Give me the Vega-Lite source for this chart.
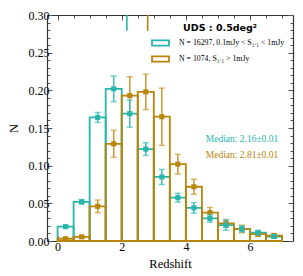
{
  "$schema": "https://vega.github.io/schema/vega-lite/v6.json",
  "width": 246,
  "height": 226,
  "autosize": "none",
  "padding": {"left": 47, "top": 15, "right": 10, "bottom": 35},
  "config": {
    "view": {"stroke": null},
    "axis": {
      "domainColor": "#333333",
      "domainWidth": 1.2,
      "tickColor": "#555555",
      "tickWidth": 1,
      "labelFont": "Liberation Serif",
      "labelFontSize": 12,
      "labelColor": "#000000",
      "titleFont": "Liberation Serif",
      "titleFontSize": 12.5,
      "titleFontWeight": "normal",
      "titleColor": "#000000",
      "grid": false
    }
  },
  "datasets": {
    "hist": [
      {"sample": "N = 16297, 0.1mJy < S₁.₁ < 1mJy", "lo": 0.0, "hi": 0.5, "mid": 0.25, "frac": 0.019, "err": 0.002},
      {"sample": "N = 16297, 0.1mJy < S₁.₁ < 1mJy", "lo": 0.5, "hi": 1.0, "mid": 0.75, "frac": 0.052, "err": 0.003},
      {"sample": "N = 16297, 0.1mJy < S₁.₁ < 1mJy", "lo": 1.0, "hi": 1.5, "mid": 1.25, "frac": 0.164, "err": 0.0066},
      {"sample": "N = 16297, 0.1mJy < S₁.₁ < 1mJy", "lo": 1.5, "hi": 2.0, "mid": 1.75, "frac": 0.202, "err": 0.017},
      {"sample": "N = 16297, 0.1mJy < S₁.₁ < 1mJy", "lo": 2.0, "hi": 2.5, "mid": 2.25, "frac": 0.169, "err": 0.018},
      {"sample": "N = 16297, 0.1mJy < S₁.₁ < 1mJy", "lo": 2.5, "hi": 3.0, "mid": 2.75, "frac": 0.122, "err": 0.0084},
      {"sample": "N = 16297, 0.1mJy < S₁.₁ < 1mJy", "lo": 3.0, "hi": 3.5, "mid": 3.25, "frac": 0.085, "err": 0.010},
      {"sample": "N = 16297, 0.1mJy < S₁.₁ < 1mJy", "lo": 3.5, "hi": 4.0, "mid": 3.75, "frac": 0.0575, "err": 0.0058},
      {"sample": "N = 16297, 0.1mJy < S₁.₁ < 1mJy", "lo": 4.0, "hi": 4.5, "mid": 4.25, "frac": 0.044, "err": 0.007},
      {"sample": "N = 16297, 0.1mJy < S₁.₁ < 1mJy", "lo": 4.5, "hi": 5.0, "mid": 4.75, "frac": 0.030, "err": 0.005},
      {"sample": "N = 16297, 0.1mJy < S₁.₁ < 1mJy", "lo": 5.0, "hi": 5.5, "mid": 5.25, "frac": 0.021, "err": 0.0066},
      {"sample": "N = 16297, 0.1mJy < S₁.₁ < 1mJy", "lo": 5.5, "hi": 6.0, "mid": 5.75, "frac": 0.016, "err": 0.004},
      {"sample": "N = 16297, 0.1mJy < S₁.₁ < 1mJy", "lo": 6.0, "hi": 6.5, "mid": 6.25, "frac": 0.011, "err": 0.003},
      {"sample": "N = 16297, 0.1mJy < S₁.₁ < 1mJy", "lo": 6.5, "hi": 7.0, "mid": 6.75, "frac": 0.006, "err": 0.002},
      {"sample": "N = 1074, S₁.₁ > 1mJy", "lo": 0.0, "hi": 0.5, "mid": 0.25, "frac": 0.003, "err": 0.001},
      {"sample": "N = 1074, S₁.₁ > 1mJy", "lo": 0.5, "hi": 1.0, "mid": 0.75, "frac": 0.0055, "err": 0.0015},
      {"sample": "N = 1074, S₁.₁ > 1mJy", "lo": 1.0, "hi": 1.5, "mid": 1.25, "frac": 0.046, "err": 0.0084},
      {"sample": "N = 1074, S₁.₁ > 1mJy", "lo": 1.5, "hi": 2.0, "mid": 1.75, "frac": 0.129, "err": 0.018},
      {"sample": "N = 1074, S₁.₁ > 1mJy", "lo": 2.0, "hi": 2.5, "mid": 2.25, "frac": 0.193, "err": 0.025},
      {"sample": "N = 1074, S₁.₁ > 1mJy", "lo": 2.5, "hi": 3.0, "mid": 2.75, "frac": 0.198, "err": 0.0235},
      {"sample": "N = 1074, S₁.₁ > 1mJy", "lo": 3.0, "hi": 3.5, "mid": 3.25, "frac": 0.165, "err": 0.038},
      {"sample": "N = 1074, S₁.₁ > 1mJy", "lo": 3.5, "hi": 4.0, "mid": 3.75, "frac": 0.102, "err": 0.013},
      {"sample": "N = 1074, S₁.₁ > 1mJy", "lo": 4.0, "hi": 4.5, "mid": 4.25, "frac": 0.072, "err": 0.010},
      {"sample": "N = 1074, S₁.₁ > 1mJy", "lo": 4.5, "hi": 5.0, "mid": 4.75, "frac": 0.0376, "err": 0.007},
      {"sample": "N = 1074, S₁.₁ > 1mJy", "lo": 5.0, "hi": 5.5, "mid": 5.25, "frac": 0.0235, "err": 0.005},
      {"sample": "N = 1074, S₁.₁ > 1mJy", "lo": 5.5, "hi": 6.0, "mid": 5.75, "frac": 0.016, "err": 0.005},
      {"sample": "N = 1074, S₁.₁ > 1mJy", "lo": 6.0, "hi": 6.5, "mid": 6.25, "frac": 0.009, "err": 0.003},
      {"sample": "N = 1074, S₁.₁ > 1mJy", "lo": 6.5, "hi": 7.0, "mid": 6.75, "frac": 0.007, "err": 0.003}
    ],
    "medians": [
      {"sample": "N = 16297, 0.1mJy < S₁.₁ < 1mJy", "median": 2.16, "label": "Median: 2.16±0.01", "tx": 6.88, "ty": 0.135, "rlo": 0.279, "rhi": 0.30},
      {"sample": "N = 1074, S₁.₁ > 1mJy", "median": 2.81, "label": "Median: 2.81±0.01", "tx": 6.88, "ty": 0.114, "rlo": 0.279, "rhi": 0.30}
    ]
  },
  "resolve": {"axis": {"x": "independent", "y": "independent"}},
  "layer": [
    {
      "data": {"name": "hist"},
      "transform": [{"filter": "datum.sample == 'N = 16297, 0.1mJy < S₁.₁ < 1mJy'"}],
      "mark": {"type": "rect", "filled": false, "strokeWidth": 1.8},
      "encoding": {
        "x": {"field": "lo", "type": "quantitative", "scale": {"domain": [-0.33, 7.34], "nice": false, "zero": false},
              "axis": {"orient": "bottom", "title": "Redshift", "values": [0, 0.5, 1, 1.5, 2, 2.5, 3, 3.5, 4, 4.5, 5, 5.5, 6, 6.5, 7],
                       "labelExpr": "datum.value % 2 === 0 ? format(datum.value, 'd') : ''", "tickSize": {"condition": {"test": "datum.value % 2 === 0", "value": -5}, "value": -3}, "labelPadding": 5, "titlePadding": 5}},
        "x2": {"field": "hi"},
        "y": {"field": "frac", "type": "quantitative", "scale": {"domain": [0, 0.3], "nice": false},
              "axis": {"orient": "left", "title": "N", "values": [0, 0.01, 0.02, 0.03, 0.04, 0.05, 0.06, 0.07, 0.08, 0.09, 0.1, 0.11, 0.12, 0.13, 0.14, 0.15, 0.16, 0.17, 0.18, 0.19, 0.2, 0.21, 0.22, 0.23, 0.24, 0.25, 0.26, 0.27, 0.28, 0.29, 0.3],
                       "labelExpr": "round(datum.value * 100) % 5 === 0 ? format(datum.value, '.2f') : ''", "tickSize": {"condition": {"test": "round(datum.value * 100) % 5 === 0", "value": -5}, "value": -3}, "labelPadding": 3, "titlePadding": 8}},
        "y2": {"datum": 0},
        "stroke": {"field": "sample", "type": "nominal",
                   "scale": {"domain": ["N = 16297, 0.1mJy < S₁.₁ < 1mJy", "N = 1074, S₁.₁ > 1mJy"], "range": ["#27b5ac", "#b8860b"]},
                   "legend": {"orient": "none", "legendX": 108, "legendY": 8, "title": "UDS : 0.5deg²", "titleFont": "DejaVu Sans", "titleFontWeight": "bold", "titleFontSize": 9.5, "titleColor": "#000000", "titleAnchor": "middle", "titlePadding": 5,
                              "labelFont": "Liberation Serif", "labelFontSize": 7.8, "labelColor": "#000000", "labelOffset": 13, "labelLimit": 300,
                              "symbolType": "M-2,-0.6H2V0.6H-2Z", "symbolSize": 72, "symbolStrokeWidth": 1.8, "symbolFillColor": "transparent", "rowPadding": 3,
                              "encode": {"symbols": {"update": {"fill": {"value": "transparent"}, "fillOpacity": {"value": 0}}}}}}
      }
    },
    {
      "data": {"name": "hist"},
      "transform": [{"filter": "datum.sample == 'N = 1074, S₁.₁ > 1mJy'"}],
      "mark": {"type": "rect", "filled": false, "strokeWidth": 1.8},
      "encoding": {
        "x": {"field": "lo", "type": "quantitative",
              "axis": {"orient": "top", "title": null, "labels": false, "values": [0, 0.5, 1, 1.5, 2, 2.5, 3, 3.5, 4, 4.5, 5, 5.5, 6, 6.5, 7],
                       "tickSize": {"condition": {"test": "datum.value % 2 === 0", "value": -5}, "value": -3}}},
        "x2": {"field": "hi"},
        "y": {"field": "frac", "type": "quantitative",
              "axis": {"orient": "right", "title": null, "labels": false, "values": [0, 0.01, 0.02, 0.03, 0.04, 0.05, 0.06, 0.07, 0.08, 0.09, 0.1, 0.11, 0.12, 0.13, 0.14, 0.15, 0.16, 0.17, 0.18, 0.19, 0.2, 0.21, 0.22, 0.23, 0.24, 0.25, 0.26, 0.27, 0.28, 0.29, 0.3],
                       "tickSize": {"condition": {"test": "round(datum.value * 100) % 5 === 0", "value": -5}, "value": -3}}},
        "y2": {"datum": 0},
        "stroke": {"field": "sample", "type": "nominal", "legend": null}
      }
    },
    {
      "data": {"name": "hist"},
      "transform": [{"filter": "datum.sample == 'N = 1074, S₁.₁ > 1mJy'"}, {"calculate": "datum.frac - datum.err", "as": "elo"}, {"calculate": "datum.frac + datum.err", "as": "ehi"}],
      "mark": {"type": "errorbar", "color": "#c9982e", "thickness": 1.5, "ticks": {"size": 6, "thickness": 1.5}},
      "encoding": {
        "x": {"field": "mid", "type": "quantitative", "axis": null},
        "y": {"field": "elo", "type": "quantitative", "axis": null},
        "y2": {"field": "ehi"}
      }
    },
    {
      "data": {"name": "hist"},
      "transform": [{"filter": "datum.sample == 'N = 1074, S₁.₁ > 1mJy'"}],
      "mark": {"type": "square", "size": 26, "opacity": 1, "filled": true, "color": "#b8860b"},
      "encoding": {
        "x": {"field": "mid", "type": "quantitative", "axis": null},
        "y": {"field": "frac", "type": "quantitative", "axis": null}
      }
    },
    {
      "data": {"name": "hist"},
      "transform": [{"filter": "datum.sample == 'N = 16297, 0.1mJy < S₁.₁ < 1mJy'"}, {"calculate": "datum.frac - datum.err", "as": "elo"}, {"calculate": "datum.frac + datum.err", "as": "ehi"}],
      "mark": {"type": "errorbar", "color": "#3cc0b8", "thickness": 1.5, "ticks": {"size": 6, "thickness": 1.5}},
      "encoding": {
        "x": {"field": "mid", "type": "quantitative", "axis": null},
        "y": {"field": "elo", "type": "quantitative", "axis": null},
        "y2": {"field": "ehi"}
      }
    },
    {
      "data": {"name": "hist"},
      "transform": [{"filter": "datum.sample == 'N = 16297, 0.1mJy < S₁.₁ < 1mJy'"}],
      "mark": {"type": "square", "size": 26, "opacity": 1, "filled": true, "color": "#27b5ac"},
      "encoding": {
        "x": {"field": "mid", "type": "quantitative", "axis": null},
        "y": {"field": "frac", "type": "quantitative", "axis": null}
      }
    },
    {
      "data": {"name": "medians"},
      "mark": {"type": "rule", "strokeWidth": 1.6},
      "encoding": {
        "x": {"field": "median", "type": "quantitative", "axis": null},
        "y": {"field": "rlo", "type": "quantitative", "axis": null},
        "y2": {"field": "rhi"},
        "color": {"field": "sample", "type": "nominal", "scale": {"domain": ["N = 16297, 0.1mJy < S₁.₁ < 1mJy", "N = 1074, S₁.₁ > 1mJy"], "range": ["#27b5ac", "#b8860b"]}, "legend": null}
      }
    },
    {
      "data": {"name": "medians"},
      "mark": {"type": "text", "align": "right", "baseline": "middle", "font": "Liberation Serif", "fontSize": 9.5},
      "encoding": {
        "x": {"field": "tx", "type": "quantitative", "axis": null},
        "y": {"field": "ty", "type": "quantitative", "axis": null},
        "text": {"field": "label"},
        "color": {"field": "sample", "type": "nominal", "legend": null}
      }
    }
  ]
}
